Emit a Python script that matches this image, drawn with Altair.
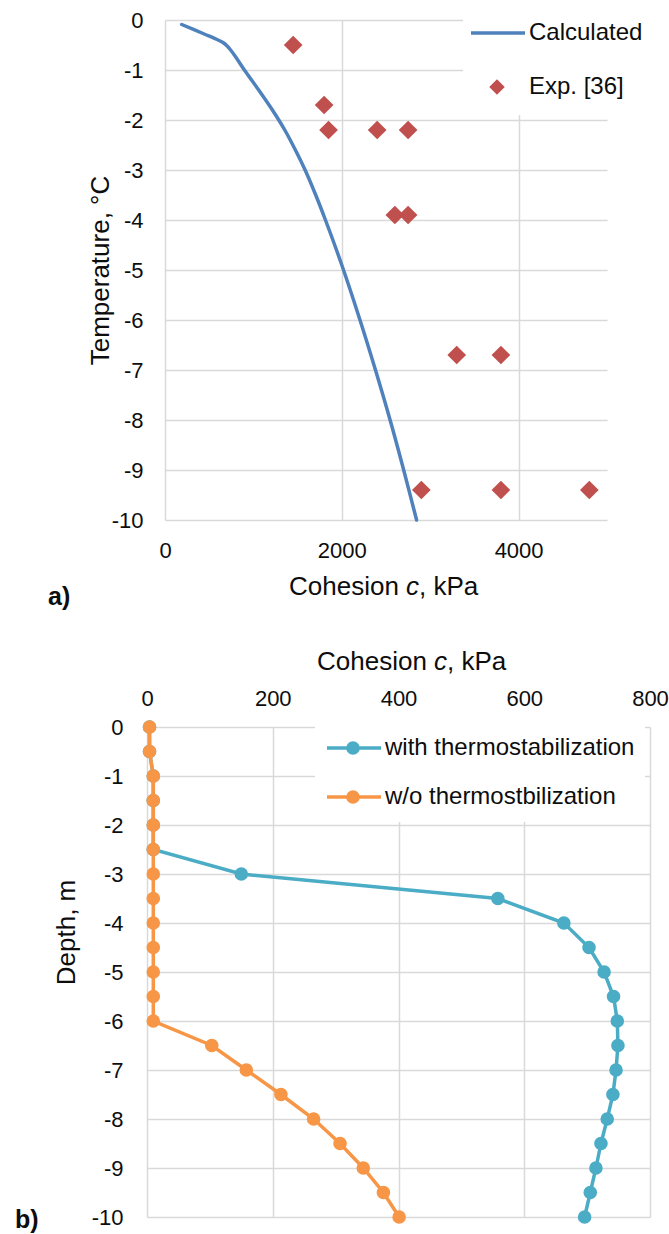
import altair as alt
import pandas as pd

FONT = "Liberation Sans"
TXT = "#0d0d0d"
GRID = "#d9d9d9"

# ---------------- panel a) data ----------------
calc_cohesion = [189, 450, 600, 660, 700, 740, 800, 898, 1060, 1215, 1355, 1475, 1585, 1705, 1815,
                 2000, 2193, 2386, 2556, 2700, 2846]
calc_temp = [-0.09, -0.285, -0.40, -0.455, -0.515, -0.595, -0.74, -1.0, -1.4, -1.8, -2.2, -2.6, -3.0,
             -3.5, -4.0, -4.9, -5.93, -7.03, -8.06, -9.0, -10.0]
exp_cohesion = [1450, 1800, 1850, 2400, 2750, 2600, 2750, 3300, 3800, 2900, 3800, 4800]
exp_temp = [-0.5, -1.7, -2.2, -2.2, -2.2, -3.9, -3.9, -6.7, -6.7, -9.4, -9.4, -9.4]
a_xticks = [0, 2000, 4000]
a_yticks = [-10, -9, -8, -7, -6, -5, -4, -3, -2, -1, 0]
a_legend = ["Calculated", "Exp. [36]"]
a_colors = ["#4f81bd", "#c0504d"]

# ---------------- panel b) data ----------------
depth = [0, -0.5, -1, -1.5, -2, -2.5, -3, -3.5, -4, -4.5, -5, -5.5, -6, -6.5, -7, -7.5, -8, -8.5, -9, -9.5, -10]
coh_with = [4, 4, 10, 10, 10, 10, 150, 558, 663, 703, 727, 742, 748, 749, 746, 741, 732, 722, 714, 705, 696]
coh_without = [4, 4, 10, 10, 10, 10, 10, 10, 10, 10, 10, 10, 10, 103, 158, 213, 265, 307, 344, 376, 401]
b_xticks = [0, 200, 400, 600, 800]
b_yticks = [-10, -9, -8, -7, -6, -5, -4, -3, -2, -1, 0]
b_legend = ["with thermostabilization", "w/o thermostbilization"]
b_colors = ["#4bacc6", "#f79646"]

title_parts = ["Cohesion", "c", ", kPa"]


def axis(**kw):
    base = dict(grid=True, gridColor=GRID, gridWidth=1.5, domain=False, ticks=False,
                labelFont=FONT, labelFontSize=22, labelColor=TXT, labelFlush=False,
                labelOverlap=False, labelExpr="'' + datum.value",
                titleFont=FONT, titleFontSize=26, titleFontWeight="normal", titleColor=TXT)
    base.update(kw)
    return alt.Axis(**base)


def one(label):
    return pd.DataFrame({"label": [label]})


def text_layer(label, x, y, size=24, align="left", baseline="middle", style="normal", weight="normal"):
    return alt.Chart(one(label)).mark_text(
        align=align, baseline=baseline, font=FONT, fontSize=size, color=TXT,
        fontStyle=style, fontWeight=weight
    ).encode(x=alt.value(x), y=alt.value(y), text="label:N")


def rect_layer(x1, x2, y1, y2):
    return alt.Chart(one("bg")).mark_rect(color="white").encode(
        x=alt.value(x1), x2=alt.value(x2), y=alt.value(y1), y2=alt.value(y2))


def cohesion_title(x_start, baseline_y):
    w_word = 109.8   # "Cohesion" width at 26px
    w_space = 7.2
    w_c = 13.0
    return [
        text_layer(title_parts[0], x_start, baseline_y, size=26, baseline="alphabetic"),
        text_layer(title_parts[1], x_start + w_word + w_space, baseline_y, size=26,
                   baseline="alphabetic", style="italic"),
        text_layer(title_parts[2], x_start + w_word + w_space + w_c, baseline_y, size=26,
                   baseline="alphabetic"),
    ]


# ---------------- panel a) ----------------
df_calc = pd.DataFrame({"c": calc_cohesion, "t": calc_temp, "i": list(range(len(calc_cohesion)))})
df_exp = pd.DataFrame({"c": exp_cohesion, "t": exp_temp})

xa = alt.X("c:Q", scale=alt.Scale(domain=[0, 5000], range=[18, 460], nice=False, zero=False),
           axis=axis(values=a_xticks, orient="bottom", labelPadding=20, title=None))
ya = alt.Y("t:Q", scale=alt.Scale(domain=[-10, 0], nice=False),
           axis=axis(values=a_yticks, offset=-18, labelPadding=22, title="Temperature, °C",
                     titleAngle=270, titleBaseline="bottom", titleX=-51.5, titleY=250))

a_line = alt.Chart(df_calc).mark_line(color=a_colors[0], strokeWidth=3.5, strokeJoin="round",
                                      strokeCap="round", interpolate="catmull-rom").encode(
    x=xa, y=ya, order=alt.Order("i:Q"))
a_pts = alt.Chart(df_exp).mark_point(shape="diamond", filled=True, size=350, opacity=1,
                                     color=a_colors[1]).encode(x=xa, y=ya)

a_leg_bg = rect_layer(316, 513, -20, 95)
a_leg_line = alt.Chart(one(a_legend[0])).mark_rule(color=a_colors[0], strokeWidth=3.5).encode(
    x=alt.value(324), x2=alt.value(378), y=alt.value(13))
a_leg_diam = alt.Chart(one(a_legend[1])).mark_point(shape="diamond", filled=True, size=240, opacity=1,
                                                     color=a_colors[1]).encode(
    x=alt.value(350), y=alt.value(67))
a_leg_t1 = text_layer(a_legend[0], 382, 13)
a_leg_t2 = text_layer(a_legend[1], 382, 67)
a_label = text_layer("a)", -99, 585, size=25, baseline="alphabetic", weight="bold")

panel_a = alt.layer(
    a_line, a_pts, a_leg_bg, a_leg_line, a_leg_diam, a_leg_t1, a_leg_t2, a_label,
    *cohesion_title(142, 575)
).properties(width=460, height=500)

# ---------------- panel b) ----------------
idx = list(range(len(depth)))
df_with = pd.DataFrame({"c": coh_with, "d": depth, "i": idx})
df_without = pd.DataFrame({"c": coh_without, "d": depth, "i": idx})

xb = alt.X("c:Q", scale=alt.Scale(domain=[0, 800], nice=False),
           axis=axis(values=b_xticks, orient="top", labelPadding=17, title=None))
yb = alt.Y("d:Q", scale=alt.Scale(domain=[-10, 0], nice=False),
           axis=axis(values=b_yticks, labelPadding=24, title="Depth, m",
                     titleAngle=270, titleBaseline="bottom", titleX=-67.5, titleY=205))

layers_b = []
for df, col in [(df_with, b_colors[0]), (df_without, b_colors[1])]:
    layers_b.append(alt.Chart(df).mark_line(color=col, strokeWidth=3.5).encode(
        x=xb, y=yb, order=alt.Order("i:Q")))
    layers_b.append(alt.Chart(df).mark_circle(color=col, size=185, opacity=1).encode(x=xb, y=yb))

layers_b.append(rect_layer(168, 498, -2, 95))
for k, (lab, col) in enumerate(zip(b_legend, b_colors)):
    yy = 21 + 49 * k
    layers_b.append(alt.Chart(one(lab)).mark_rule(color=col, strokeWidth=3.5).encode(
        x=alt.value(180), x2=alt.value(234), y=alt.value(yy)))
    layers_b.append(alt.Chart(one(lab)).mark_circle(color=col, size=185, opacity=1).encode(
        x=alt.value(206), y=alt.value(yy)))
    layers_b.append(text_layer(lab, 238, yy))

layers_b.append(text_layer("b)", -132, 501, size=25, baseline="alphabetic", weight="bold"))
layers_b.extend(cohesion_title(170, -57.5))

panel_b = alt.layer(*layers_b).properties(width=503, height=490)

chart = alt.vconcat(
    panel_a, panel_b, spacing=207, bounds="flush",
    padding={"left": 15, "top": 0, "right": 0, "bottom": 0}
).configure_view(stroke=None)

chart.save("out.html", embed_options={"renderer": "svg", "actions": False})
